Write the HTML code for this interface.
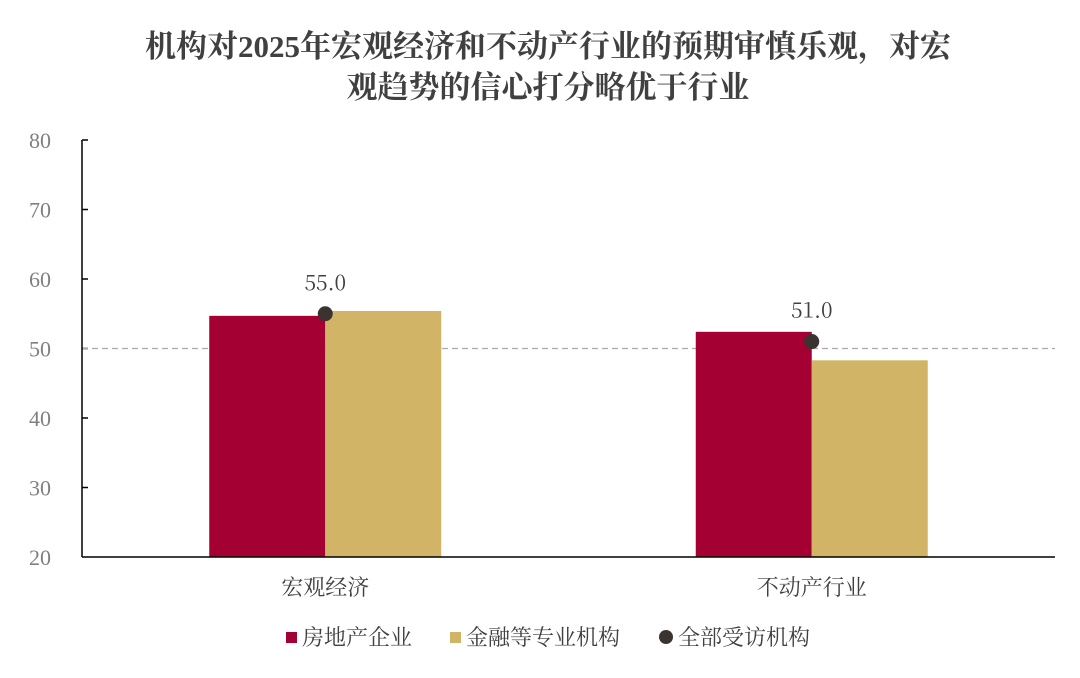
<!DOCTYPE html>
<html><head><meta charset="utf-8">
<style>
html,body{margin:0;padding:0;background:#fff;}
body{width:1080px;height:673px;overflow:hidden;}
svg text{font-family:"Liberation Serif","Noto Serif CJK SC",serif;}
svg text.cjk{font-family:"Noto Serif CJK SC",serif;}
</style></head>
<body>
<svg id="chart" width="1080" height="673" viewBox="0 0 1080 673" xmlns="http://www.w3.org/2000/svg">
<text x="548" y="57" text-anchor="middle" font-size="31" font-weight="bold" fill="#404040">机构对2025年宏观经济和不动产行业的预期审慎乐观，对宏</text>
<text x="548" y="98" text-anchor="middle" font-size="31" font-weight="bold" fill="#404040">观趋势的信心打分略优于行业</text>
<g id="plot"></g>
<g>
<rect x="286" y="632" width="11" height="11" fill="#A50034"/>
<text x="302" y="645" font-size="22" fill="#404040">房地产企业</text>
<rect x="450" y="632" width="11" height="11" fill="#D1B466"/>
<text x="466" y="645" font-size="22" fill="#404040">金融等专业机构</text>
<circle cx="666" cy="637" r="7" fill="#3b3330"/>
<text x="678" y="645" font-size="22" fill="#404040">全部受访机构</text>
</g>
</svg>
<script>
const categories = ["宏观经济","不动产行业"];
const realEstate = [54.7, 52.4];
const financial = [55.4, 48.3];
const allInst = [55.0, 51.0];
const yTicks = [20,30,40,50,60,70,80];

const NS="http://www.w3.org/2000/svg";
const g=document.getElementById('plot');
const x0=82,x1=1055,yTop=140,yBot=557,yMin=20,yMax=80;
const y=v=>yBot-(v-yMin)/(yMax-yMin)*(yBot-yTop);
const band=(x1-x0)/categories.length;
const cx=i=>x0+band*(i+0.5);
const bw=116;
function mk(tag,attrs){const e=document.createElementNS(NS,tag);for(const k in attrs)e.setAttribute(k,attrs[k]);g.appendChild(e);return e;}

yTicks.forEach(t=>{
  const tl=mk('text',{x:51,y:y(t)+8,'text-anchor':'end','font-size':22,fill:'#808080'});
  
  
  tl.textContent=t;
  if(t>yMin){const tk=mk('line',{x1:x0,x2:x0+6,y1:y(t),y2:y(t),stroke:'#000','stroke-width':1.5});
  
  }
});
const ref=mk('line',{x1:x0,x2:x1,y1:y(50),y2:y(50),stroke:'#aaa','stroke-width':1.2,'stroke-dasharray':'6,4'});



categories.forEach((c,i)=>{
  const r1=mk('rect',{x:cx(i)-bw,y:y(realEstate[i]),width:bw,height:yBot-y(realEstate[i]),fill:'#A50034'});
  
  
  const r2=mk('rect',{x:cx(i),y:y(financial[i]),width:bw,height:yBot-y(financial[i]),fill:'#D1B466'});
  
  
  const d=mk('circle',{cx:cx(i),cy:y(allInst[i]),r:7.5,fill:'#3b3330'});
  
  
  const lb=mk('text',{x:cx(i),y:y(allInst[i])-24,'text-anchor':'middle','font-size':21,fill:'#404040',class:'cjk'});
  
  
  lb.textContent=allInst[i].toFixed(1);
  const cl=mk('text',{x:cx(i),y:595,'text-anchor':'middle','font-size':22,fill:'#404040'});
  
  
  cl.textContent=c;
});
const ya=mk('line',{x1:x0,x2:x0,y1:yTop,y2:yBot,stroke:'#000','stroke-width':1.5});


const xa=mk('line',{x1:x0,x2:x1,y1:yBot,y2:yBot,stroke:'#000','stroke-width':1.5});


</script>
</body></html>
